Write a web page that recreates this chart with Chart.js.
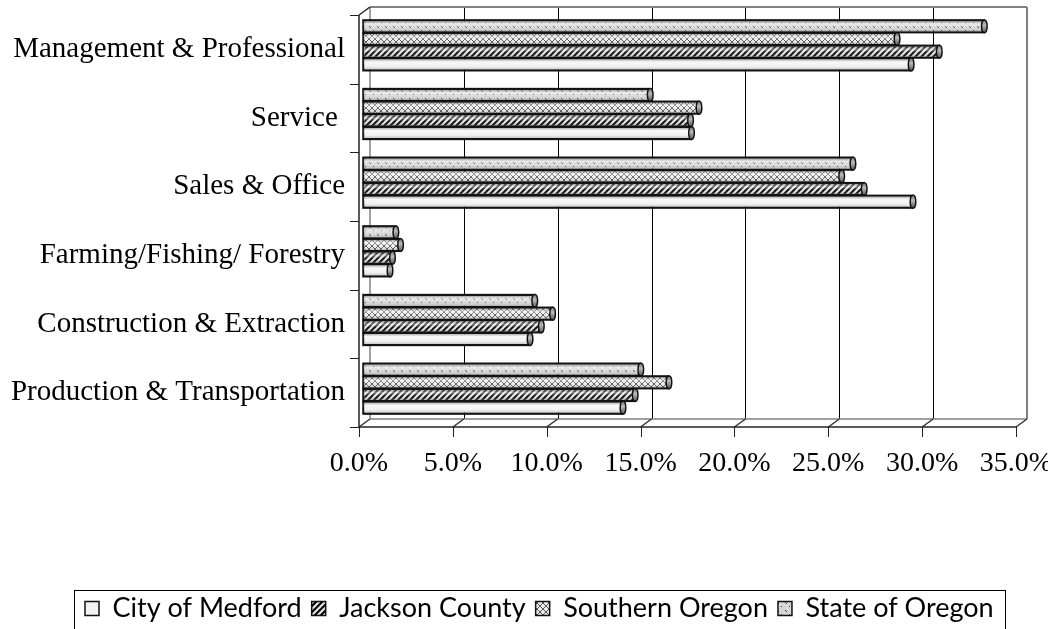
<!DOCTYPE html>
<html>
<head>
<meta charset="utf-8">
<script src="https://cdn.jsdelivr.net/npm/chart.js@4.4.1/dist/chart.umd.min.js"></script>
<style>
  html, body { margin: 0; padding: 0; background: #fff; overflow: hidden; }
</style>
</head>
<body>
<canvas id="chart" width="1048" height="640"></canvas>
<script>
// occupation shares, percent
const categories = ['Management & Professional', 'Service ', 'Sales & Office',
    'Farming/Fishing/ Forestry', 'Construction & Extraction', 'Production & Transportation'];
const medford = [29.2, 17.5, 29.3, 1.44, 8.9, 13.85];
const jackson = [30.7, 17.45, 26.7, 1.57, 9.5, 14.5];
const southern = [28.45, 17.9, 25.5, 2.0, 10.1, 16.3];
const stateOR = [33.1, 15.3, 26.1, 1.75, 9.15, 14.8];
const xTicks = [0, 5, 10, 15, 20, 25, 30, 35];

// 3d offsets of back wall / front plane relative to bar plane
const BACK = {dx: 7, dy: -4};
const FRONT = {dx: -4, dy: 4};
const PLOT_TOP = 11, PLOT_BOTTOM = 423;
const LEGEND_TOP = 585, LEGEND_START = 85;

function makePattern(kind) {
    const c = document.createElement('canvas');
    const g = c.getContext('2d');
    if (kind === 'hatch') {
        c.width = c.height = 6;
        g.fillStyle = '#e4e4e4';
        g.fillRect(0, 0, 6, 6);
        g.strokeStyle = '#000';
        g.lineWidth = 2;
        g.beginPath();
        g.moveTo(-3, 3); g.lineTo(3, -3);
        g.moveTo(0, 6); g.lineTo(6, 0);
        g.moveTo(3, 9); g.lineTo(9, 3);
        g.stroke();
    } else if (kind === 'cross') {
        c.width = c.height = 6;
        g.fillStyle = '#ececec';
        g.fillRect(0, 0, 6, 6);
        g.strokeStyle = '#555';
        g.lineWidth = 1;
        g.beginPath();
        g.moveTo(0, 0); g.lineTo(6, 6);
        g.moveTo(0, 6); g.lineTo(6, 0);
        g.stroke();
    } else {
        c.width = c.height = 8;
        g.fillStyle = '#d6d6d6';
        g.fillRect(0, 0, 8, 8);
        g.fillStyle = '#444';
        g.fillRect(1, 2, 1, 1);
        g.fillRect(5, 6, 1, 1);
        g.fillRect(2, 3, 1, 1);
    }
    return g.createPattern(c, 'repeat');
}

const cylinderShade = {
    id: 'cylinderShade',
    afterDatasetsDraw(chart) {
        const ctx = chart.ctx;
        ctx.save();
        chart.data.datasets.forEach((ds, i) => {
            chart.getDatasetMeta(i).data.forEach(bar => {
                const p = bar.getProps(['x', 'y', 'base', 'height'], true);
                const top = p.y - p.height / 2;
                const gr = ctx.createLinearGradient(0, top, 0, top + p.height);
                gr.addColorStop(0, 'rgba(0,0,0,0.25)');
                gr.addColorStop(0.3, 'rgba(255,255,255,0.5)');
                gr.addColorStop(0.6, 'rgba(255,255,255,0.05)');
                gr.addColorStop(1, 'rgba(0,0,0,0.35)');
                ctx.fillStyle = gr;
                ctx.fillRect(p.base, top, p.x - p.base, p.height);
                ctx.strokeStyle = '#111';
                ctx.lineWidth = 1.5;
                ctx.strokeRect(p.base, top, p.x - p.base, p.height);
                // end cap
                const cg = ctx.createLinearGradient(0, top, 0, top + p.height);
                cg.addColorStop(0, '#777');
                cg.addColorStop(0.4, '#bbb');
                cg.addColorStop(1, '#555');
                ctx.beginPath();
                ctx.ellipse(p.x, p.y, Math.max(2, p.height * 0.22), p.height / 2, 0, 0, Math.PI * 2);
                ctx.fillStyle = cg;
                ctx.fill();
                ctx.stroke();
            });
        });
        ctx.restore();
    }
};

const frame3d = {
    id: 'frame3d',
    beforeDatasetsDraw(chart) {
        const ctx = chart.ctx;
        const a = chart.chartArea;
        const x = chart.scales.x;
        const x0 = x.getPixelForValue(xTicks[0]);
        const x1 = x.getPixelForValue(xTicks[xTicks.length - 1]);
        const line = (ax, ay, bx, by) => {
            ctx.beginPath(); ctx.moveTo(ax, ay); ctx.lineTo(bx, by); ctx.stroke();
        };
        ctx.save();
        // back wall gridlines
        ctx.strokeStyle = '#000';
        ctx.lineWidth = 1;
        xTicks.slice(1, -1).forEach(v => {
            const px = Math.round(x.getPixelForValue(v) + BACK.dx) + 0.5;
            line(px, a.top + BACK.dy, px, a.bottom + BACK.dy);
        });
        // back wall + floor outline (grey)
        ctx.strokeStyle = '#808080';
        ctx.lineWidth = 2;
        line(x0 + BACK.dx, a.top + BACK.dy, x1 + BACK.dx, a.top + BACK.dy);
        line(x1 + BACK.dx, a.top + BACK.dy, x1 + BACK.dx, a.bottom + BACK.dy);
        ctx.lineWidth = 1.5;
        line(x0 + BACK.dx, a.top + BACK.dy, x0 + BACK.dx, a.bottom + BACK.dy);
        line(x0 + BACK.dx, a.bottom + BACK.dy, x1 + BACK.dx, a.bottom + BACK.dy);
        // floor diagonals
        ctx.strokeStyle = '#333';
        xTicks.forEach(v => {
            const px = x.getPixelForValue(v);
            line(px + FRONT.dx, a.bottom + FRONT.dy, px + BACK.dx, a.bottom + BACK.dy);
        });
        // front axes
        ctx.strokeStyle = '#222';
        ctx.lineWidth = 1.5;
        line(x0 + FRONT.dx, a.bottom + FRONT.dy, x1 + FRONT.dx, a.bottom + FRONT.dy);
        line(x0 + FRONT.dx, a.top + FRONT.dy, x0 + FRONT.dx, a.bottom + FRONT.dy);
        line(x0 + FRONT.dx, a.top + FRONT.dy, x0 + BACK.dx, a.top + BACK.dy);
        // tick marks
        ctx.lineWidth = 1;
        xTicks.forEach(v => {
            const px = Math.round(x.getPixelForValue(v) + FRONT.dx) + 0.5;
            line(px, a.bottom + FRONT.dy, px, a.bottom + FRONT.dy + 10);
        });
        const n = categories.length;
        for (let i = 0; i <= n; i++) {
            const py = Math.round(a.top + FRONT.dy + i * (a.bottom - a.top) / n) + 0.5;
            line(x0 + FRONT.dx - 9, py, x0 + FRONT.dx, py);
        }
        ctx.restore();
    }
};

// move the legend to where it sits in the original and draw its frame
const legendPlace = {
    id: 'legendPlace',
    afterLayout(chart) {
        const lg = chart.legend;
        const pad = lg.options.labels.padding;
        const lw = lg.lineWidths[0];
        const h = lg.height;
        lg.left = 0;
        lg.right = 2 * LEGEND_START - pad + lw;
        lg.width = lg.right - lg.left;
        lg.top = LEGEND_TOP;
        lg.bottom = LEGEND_TOP + h;
    },
    afterDraw(chart) {
        const boxes = chart.legend.legendHitBoxes;
        if (!boxes.length) return;
        const last = boxes[boxes.length - 1];
        const l = Math.round(boxes[0].left - 11) + 0.5;
        const r = Math.round(last.left + last.width + 11) + 0.5;
        const ctx = chart.ctx;
        ctx.save();
        ctx.strokeStyle = '#000';
        ctx.lineWidth = 1;
        ctx.strokeRect(l, LEGEND_TOP + 5.5, r - l, 80);
        ctx.restore();
    }
};

const barStyle = {borderColor: '#111', borderWidth: 1.5, borderSkipped: false,
    categoryPercentage: 0.74, barPercentage: 1.0};

new Chart(document.getElementById('chart'), {
    type: 'bar',
    data: {
        labels: categories,
        datasets: [
            Object.assign({label: 'State of Oregon', data: stateOR, backgroundColor: makePattern('dots')}, barStyle),
            Object.assign({label: 'Southern Oregon', data: southern, backgroundColor: makePattern('cross')}, barStyle),
            Object.assign({label: 'Jackson County', data: jackson, backgroundColor: makePattern('hatch')}, barStyle),
            Object.assign({label: 'City of Medford', data: medford, backgroundColor: '#f2f2f2'}, barStyle)
        ]
    },
    options: {
        indexAxis: 'y',
        responsive: false,
        animation: false,
        layout: {padding: {left: 0, right: 28, top: PLOT_TOP, bottom: 7}},
        scales: {
            x: {
                min: 0,
                max: 35,
                grid: {display: false, drawTicks: false},
                border: {display: false},
                afterBuildTicks: function (scale) {
                    scale.ticks = xTicks.map(v => ({value: v}));
                },
                afterFit: function (scale) {
                    scale.paddingLeft = 0;
                    scale.paddingRight = 0;
                    scale.height = scale.chart.height - 7 - scale.chart.legend.height - PLOT_BOTTOM;
                },
                ticks: {
                    padding: 24,
                    labelOffset: -4,
                    color: '#000',
                    maxRotation: 0,
                    autoSkip: false,
                    font: {family: 'Liberation Serif', size: 28},
                    callback: v => v.toFixed(1) + '%'
                }
            },
            y: {
                grid: {display: false, drawTicks: false},
                border: {display: false},
                afterFit: function (scale) {
                    scale.width = 363;
                    scale.paddingTop = 0;
                    scale.paddingBottom = 0;
                },
                ticks: {
                    padding: 18,
                    labelOffset: 4,
                    color: '#000',
                    font: {family: 'Liberation Serif', size: 29}
                }
            }
        },
        plugins: {
            legend: {
                position: 'bottom',
                reverse: true,
                labels: {
                    color: '#000',
                    boxWidth: 14,
                    boxHeight: 14,
                    padding: 10,
                    font: {family: 'Lato', size: 27}
                }
            },
            tooltip: {enabled: false}
        }
    },
    plugins: [frame3d, cylinderShade, legendPlace]
});
</script>
</body>
</html>
